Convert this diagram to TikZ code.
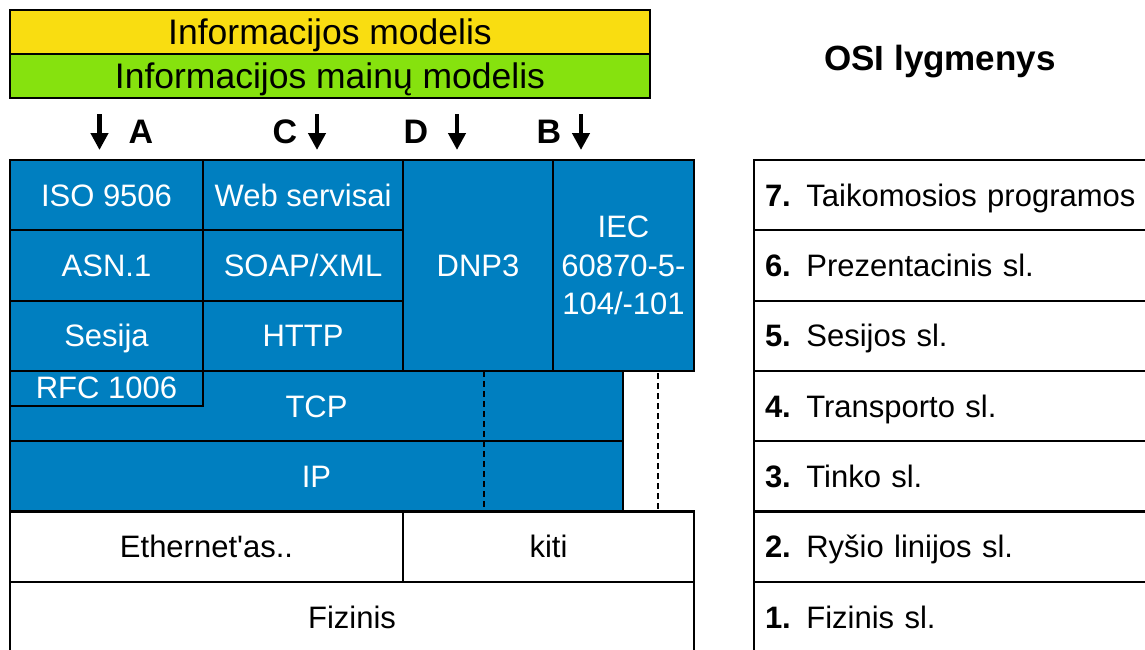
\documentclass[tikz,border=0pt]{standalone}
\usepackage{fontspec}
\setmainfont{Liberation Sans}
\usetikzlibrary{arrows.meta}

\definecolor{barYellow}{RGB}{249,221,17}
\definecolor{barGreen}{RGB}{134,226,14}
\definecolor{cellBlue}{RGB}{0,127,192}

\begin{document}
\begin{tikzpicture}[x=1pt,y=-1pt,
  frame/.style={draw=black, line width=2.2pt, inner sep=0pt, outer sep=0pt, anchor=north west},
  capline/.style={text height=22pt, text depth=0pt},
  bluecell/.style={frame, fill=cellBlue, text=white, font=\fontsize{31pt}{38.5pt}\selectfont},
  whitecell/.style={frame, fill=white, text=black, font=\fontsize{31pt}{38.5pt}\selectfont, capline},
  bar/.style={frame, minimum width=640pt, minimum height=44pt,
    font=\fontsize{35.5pt}{40pt}\selectfont, text height=25.4pt, text depth=0pt},
  osirow/.style={frame, fill=white, minimum height=70.3pt, text width=400pt, align=left,
    inner xsep=11pt, font=\fontsize{31pt}{38pt}\selectfont, capline},
  marker/.style={font=\bfseries\fontsize{34pt}{38pt}\selectfont, inner sep=0pt,
    text height=24.3pt, text depth=0pt},
  downarrow/.style={line width=4.5pt, -{Triangle[width=17pt,length=17pt]}},
  dashline/.style={line width=2pt, dash pattern=on 6pt off 4pt},
]
\clip (0,0) rectangle (1145,649);

% header bars
\node[bar, fill=barYellow] (infModel) at (10,10) {Informacijos modelis};
\node[bar, fill=barGreen] (exModel) at (10,54) {Informacijos mainų modelis};

% protocol stack markers
\node[marker] (mA) at (141,131) {A};
\node[marker] (mC) at (285,131) {C};
\node[marker] (mD) at (416,131) {D};
\node[marker] (mB) at (549,131) {B};
\coordinate (aTop) at (99.5,114);  \coordinate (aBot) at (99.5,150);
\coordinate (cTop) at (317,114);   \coordinate (cBot) at (317,150);
\coordinate (dTop) at (457,114);   \coordinate (dBot) at (457,150);
\coordinate (bTop) at (581,114);   \coordinate (bBot) at (581,150);
\draw[downarrow] (aTop) -- (aBot);
\draw[downarrow] (cTop) -- (cBot);
\draw[downarrow] (dTop) -- (dBot);
\draw[downarrow] (bTop) -- (bBot);

% upper protocol cells
\node[bluecell, capline, minimum width=193pt, minimum height=70.3pt] (iso) at (10,160) {ISO 9506};
\node[bluecell, capline, minimum width=200pt, minimum height=70.3pt] (web) at (203,160) {Web servisai};
\node[bluecell, capline, minimum width=193pt, minimum height=70.3pt] (asn) at (10,230.3) {ASN.1};
\node[bluecell, capline, minimum width=200pt, minimum height=70.3pt] (soap) at (203,230.3) {SOAP/XML};
\node[bluecell, capline, minimum width=193pt, minimum height=70.3pt] (ses) at (10,300.6) {Sesija};
\node[bluecell, capline, minimum width=200pt, minimum height=70.3pt] (http) at (203,300.6) {HTTP};
\node[bluecell, capline, minimum width=150pt, minimum height=210.9pt] (dnp) at (403,160) {DNP3};
\node[bluecell, align=center, minimum width=141pt, minimum height=210.9pt] (iec) at (553,160)
  {IEC\\60870-5-\\104/-101};

% transport and network cells
\node[bluecell, capline, minimum width=613pt, minimum height=70.3pt] (tcp) at (10,370.9) {TCP};
\node[bluecell, capline, minimum width=613pt, minimum height=70.3pt] (ip) at (10,441.2) {IP};
\coordinate (splitTop) at (484,370.9);  \coordinate (splitBot) at (484,511.5);
\draw[dashline] (splitTop) -- (splitBot);
\coordinate (edgeTop) at (658,373);     \coordinate (edgeBot) at (658,511.5);
\draw[dashline] (edgeTop) -- (edgeBot);
\node[bluecell, text height=20pt, text depth=0pt, minimum width=193pt, minimum height=35pt] (rfc) at (10,370.9) {RFC 1006};

% link and physical cells
\node[whitecell, minimum width=393pt, minimum height=70.3pt] (eth) at (10,511.5) {Ethernet\textquotesingle as..};
\node[whitecell, minimum width=291pt, minimum height=70.3pt] (kiti) at (403,511.5) {kiti};
\node[whitecell, minimum width=684pt, minimum height=72pt] (fiz) at (10,581.8) {Fizinis};

% OSI reference column
\node[font=\bfseries\fontsize{35pt}{40pt}\selectfont, inner sep=0pt, text height=25pt, text depth=0pt] (osi) at (940,57.5) {OSI lygmenys};
\node[osirow] (l7) at (754,160)   {\textbf{7.} Taikomosios programos};
\node[osirow] (l6) at (754,230.3) {\textbf{6.} Prezentacinis sl.};
\node[osirow] (l5) at (754,300.6) {\textbf{5.} Sesijos sl.};
\node[osirow] (l4) at (754,370.9) {\textbf{4.} Transporto sl.};
\node[osirow] (l3) at (754,441.2) {\textbf{3.} Tinko sl.};
\node[osirow] (l2) at (754,511.5) {\textbf{2.} Ryšio linijos sl.};
\node[osirow, minimum height=72pt] (l1) at (754,581.8) {\textbf{1.} Fizinis sl.};
\end{tikzpicture}
\end{document}
